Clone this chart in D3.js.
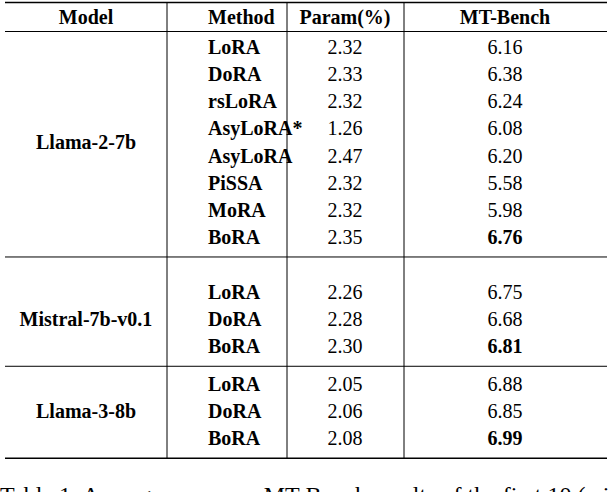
<!DOCTYPE html>
<html><head><meta charset="utf-8">
<script src="https://cdn.jsdelivr.net/npm/d3@7"></script>
<style>body{margin:0;background:#fff}svg{display:block}</style>
</head><body><svg id="t" width="610" height="492"></svg>
<script>
const headers = ["Model", "Method", "Param(%)", "MT-Bench"];
const models = ["Llama-2-7b", "Mistral-7b-v0.1", "Llama-3-8b"];
const methods = [
  ["LoRA", "DoRA", "rsLoRA", "AsyLoRA*", "AsyLoRA", "PiSSA", "MoRA", "BoRA"],
  ["LoRA", "DoRA", "BoRA"],
  ["LoRA", "DoRA", "BoRA"]
];
const params = [
  ["2.32", "2.33", "2.32", "1.26", "2.47", "2.32", "2.32", "2.35"],
  ["2.26", "2.28", "2.30"],
  ["2.05", "2.06", "2.08"]
];
const scores = [
  ["6.16", "6.38", "6.24", "6.08", "6.20", "5.58", "5.98", "6.76"],
  ["6.75", "6.68", "6.81"],
  ["6.88", "6.85", "6.99"]
];
const caption = "Table 1: Average scores on MT-Bench results of the first 10 (with";

const svg = d3.select("#t");
const font = "Liberation Serif, Times New Roman, serif";
const rowH = 27.14;
const groupTop = [47, 292, 384];
const headY = 17;
const left = 5, right = 607;
const vlines = [167, 287, 404];
const colX = [86, 208, 345, 505];

function txt(x, yy, s, bold, anchor) {
  svg.append("text").attr("x", x).attr("y", yy).attr("dy", "0.35em")
    .attr("text-anchor", anchor).attr("font-family", font).attr("font-size", 20)
    .attr("font-weight", bold ? "bold" : "normal").attr("fill", "#000").text(s);
}
const line = (x1, y1, x2, y2, w = 1) => svg.append("line").attr("x1", x1).attr("y1", y1)
  .attr("x2", x2).attr("y2", y2).attr("stroke", "#000").attr("stroke-width", w);

headers.forEach((h, i) => txt(colX[i], headY, h, true, i === 1 ? "start" : "middle"));

const seps = [];
methods.forEach((ms, g) => {
  const y = d3.scaleLinear().domain([0, 1]).range([groupTop[g], groupTop[g] + rowH]);
  const ys = ms.map((_, i) => y(i));
  txt(colX[0], d3.mean([ys[0], ys[ys.length - 1]]), models[g], true, "middle");
  const best = d3.max(scores[g], Number);
  ms.forEach((m, i) => {
    txt(colX[1], ys[i], m, true, "start");
    txt(colX[2], ys[i], params[g][i], false, "middle");
    txt(colX[3], ys[i], scores[g][i], +scores[g][i] === best, "middle");
  });
  seps.push(ys[ys.length - 1] + 20);
});

line(left, 2.5, right, 2.5, 1.6);
line(left, 31.5, right, 31.5);
seps.forEach((s, i) => line(left, s, right, s, i === seps.length - 1 ? 1.6 : 1));
vlines.forEach(x => line(x, 2.5, x, seps[seps.length - 1]));

svg.append("text").attr("x", 0).attr("y", 503).attr("font-family", font)
  .attr("font-size", 24).attr("fill", "#000").text(caption);
</script></body></html>
